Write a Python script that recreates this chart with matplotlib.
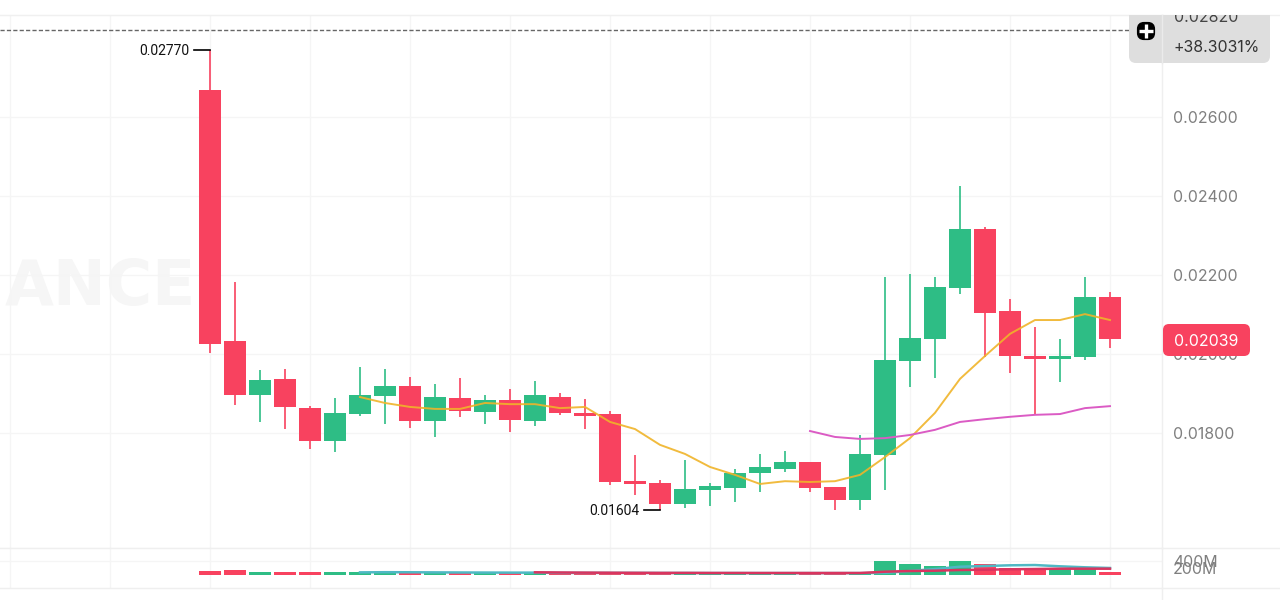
import matplotlib
matplotlib.use('Agg')
import matplotlib.pyplot as plt
from matplotlib.patches import FancyBboxPatch, Rectangle

plt.rcParams['font.family'] = ['Inter', 'DejaVu Sans']

RED = '#F8425F'
GREEN = '#2EBD85'
GRID = '#F5F5F5'
TICK = '#7F7F7F'

# candles, oldest first
opens = [0.02668, 0.02033, 0.01896, 0.01937, 0.01863, 0.01780, 0.01848, 0.01894, 0.01919, 0.01830,
         0.01889, 0.01853, 0.01884, 0.01830, 0.01891, 0.01851, 0.01848, 0.01678, 0.01673, 0.01620,
         0.01656, 0.01661, 0.01699, 0.01709, 0.01727, 0.01663, 0.01630, 0.01744, 0.01982, 0.02038,
         0.02167, 0.02316, 0.02109, 0.01995, 0.01987, 0.01992, 0.02144]
closes = [0.02025, 0.01896, 0.01934, 0.01866, 0.01780, 0.01851, 0.01896, 0.01919, 0.01830, 0.01891,
          0.01856, 0.01884, 0.01833, 0.01896, 0.01851, 0.01843, 0.01676, 0.01671, 0.01620, 0.01658,
          0.01666, 0.01699, 0.01714, 0.01727, 0.01661, 0.01630, 0.01747, 0.01985, 0.02041, 0.02170,
          0.02316, 0.02104, 0.01995, 0.01987, 0.01995, 0.02144, 0.02039]
highs = [0.02770, 0.02182, 0.01959, 0.01962, 0.01868, 0.01889, 0.01967, 0.01962, 0.01942, 0.01924,
         0.01939, 0.01896, 0.01911, 0.01932, 0.01901, 0.01886, 0.01856, 0.01744, 0.01681, 0.01732,
         0.01673, 0.01709, 0.01747, 0.01754, 0.01727, 0.01663, 0.01795, 0.02195, 0.02203, 0.02195,
         0.02425, 0.02322, 0.02139, 0.02068, 0.02038, 0.02195, 0.02157]
lows = [0.02003, 0.01871, 0.01828, 0.01810, 0.01760, 0.01752, 0.01843, 0.01823, 0.01813, 0.01790,
        0.01841, 0.01823, 0.01803, 0.01818, 0.01846, 0.01810, 0.01668, 0.01643, 0.01604, 0.01610,
        0.01615, 0.01625, 0.01651, 0.01701, 0.01651, 0.01605, 0.01606, 0.01656, 0.01916, 0.01939,
        0.02152, 0.01992, 0.01952, 0.01846, 0.01929, 0.01985, 0.02015]

# moving averages, they start later than the candles
ma_fast_start = 6
ma_fast = [0.01891, 0.01876, 0.01866, 0.01861, 0.01861, 0.01876, 0.01873, 0.01873, 0.01863, 0.01866,
           0.01828, 0.01810, 0.01770, 0.01747, 0.01714, 0.01694, 0.01671, 0.01678, 0.01676, 0.01678,
           0.01694, 0.01739, 0.01787, 0.01851, 0.01937, 0.01995, 0.02051, 0.02086, 0.02086, 0.02101,
           0.02086]
ma_slow_start = 24
ma_slow = [0.01805, 0.01790, 0.01785, 0.01787, 0.01795, 0.01808, 0.01828, 0.01835, 0.01841, 0.01846,
           0.01848, 0.01863, 0.01868]

# volume in millions
volumes = [120, 140, 85, 85, 75, 75, 85, 80, 60, 50, 60, 50, 50, 50, 45, 45, 45, 45, 45, 45,
           45, 45, 45, 45, 40, 40, 60, 390, 325, 255, 400, 315, 200, 190, 190, 185, 85]
vol_ma_teal_start = 6
vol_ma_teal = [75, 80, 78, 75, 72, 70, 68, 68, 60, 60, 60, 60, 58, 58, 56, 56, 55, 55, 55, 55,
               55, 60, 115, 170, 237, 257, 277, 285, 248, 220, 200]
vol_ma_red_start = 13
vol_ma_red = [77, 72, 68, 65, 62, 60, 60, 58, 58, 57, 57, 57, 57, 57, 94, 114, 123, 143, 151, 163,
              171, 180, 180, 180]

price_ticks = [0.018, 0.020, 0.022, 0.024, 0.026]
vol_ticks = [200, 400]
vol_tick_labels = ['200M', '400M']
time_ticks = list(range(-8, 37, 4))
top_price = 0.0282
last_price = 0.02039
hi_label = '0.02770'
lo_label = '0.01604'
hi_value = 0.0277
lo_value = 0.01604
hi_idx = 0
lo_idx = 18


def px_axes(fig, left, top, right, bottom):
    return fig.add_axes([left / 1280, 1 - bottom / 600, (right - left) / 1280, (bottom - top) / 600])


fig = plt.figure(figsize=(12.8, 6), dpi=100, facecolor='white')
ax = px_axes(fig, 0, 15, 1162, 548)
vol = px_axes(fig, 0, 548, 1162, 588)
over = fig.add_axes([0, 0, 1, 1], zorder=5)
over.set_xlim(0, 1280)
over.set_ylim(600, 0)
over.axis('off')
over.patch.set_alpha(0)

xmin, xmax = -8.4, 38.08
k = 0.002 / 79
ax.set_xlim(xmin, xmax)
ax.set_ylim(0.018 - 115 * k, 0.018 + 418 * k)
vol.set_xlim(xmin, xmax)
vol.set_ylim(-371, 771)

for a in (ax, vol):
    a.set_xticks(time_ticks)
    a.set_xticklabels([])
    a.grid(True, color=GRID, lw=1)
    a.set_axisbelow(True)
    a.yaxis.tick_right()
    a.tick_params(length=0, labelcolor=TICK, labelsize=11.4, pad=8)
    for s in a.spines.values():
        s.set_color('#EFEFEF')
    a.spines['left'].set_visible(False)

ax.set_yticks(price_ticks)
ax.set_yticklabels(['%.5f' % p for p in price_ticks])
vol.set_yticks(vol_ticks)
vol.set_yticklabels(vol_tick_labels)
vol.yaxis.grid(False)
vol.axhline(vol_ticks[1], color=GRID, lw=1, zorder=0)

# faded watermark
ax.text(5, 305, 'ANCE', transform=over.transData, fontsize=45.5, fontweight='bold', color='#F6F6F6',
        va='baseline', ha='left', family='DejaVu Sans', zorder=0)

ax.axhline(top_price, color='#666666', lw=1, ls=(0, (3, 1.6)), zorder=1)

xs = list(range(len(opens)))
colors = [GREEN if c >= o else RED for o, c in zip(opens, closes)]
ax.vlines(xs, lows, highs, colors=colors, lw=1.2, zorder=2)
ax.bar(xs, [abs(c - o) for o, c in zip(opens, closes)], bottom=[min(o, c) for o, c in zip(opens, closes)],
       width=0.88, color=colors, zorder=3)

ax.plot(range(ma_fast_start, ma_fast_start + len(ma_fast)), ma_fast, color='#F0B429', lw=1.4, alpha=0.9, zorder=4)
ax.plot(range(ma_slow_start, ma_slow_start + len(ma_slow)), ma_slow, color='#DB5BC4', lw=1.4, zorder=4)

# high and low labels with their little lines
for idx, value, label in [(hi_idx, hi_value, hi_label), (lo_idx, lo_value, lo_label)]:
    ax.plot([idx - 0.64, idx], [value, value], color='black', lw=1.2, zorder=5)
    ax.annotate(label, xy=(idx, value), xytext=(-21, -1), textcoords='offset pixels', ha='right', va='center',
                fontsize=10, color='#111111', family='Roboto', zorder=5)

vol_colors = colors
vol.bar(xs, volumes, width=0.88, color=vol_colors, zorder=2)
vol.plot(range(vol_ma_teal_start, vol_ma_teal_start + len(vol_ma_teal)), vol_ma_teal, color='#4FB8C4', lw=1.8, zorder=3)
vol.plot(range(vol_ma_red_start, vol_ma_red_start + len(vol_ma_red)), vol_ma_red, color='#D9345F', lw=1.8, zorder=4)

# frame bits on the right of the price axis
over.plot([1162, 1162], [15, 600], color='#EFEFEF', lw=1, zorder=1)
over.plot([0, 1280], [15, 15], color='#F0F0F0', lw=1, zorder=1)
over.plot([0, 1280], [548, 548], color='#EFEFEF', lw=1, zorder=1)
over.plot([0, 1280], [588, 588], color='#EFEFEF', lw=1, zorder=1)

# grey box of the top price line, cut off at the top edge of the chart
panel_clip = Rectangle((1125, 15), 150, 60, transform=over.transData)
panel = FancyBboxPatch((1129, 5), 141, 58, boxstyle='round,pad=0,rounding_size=7', fc='#DEDEDE', ec='none', zorder=2)
over.add_patch(panel)
panel.set_clip_path(panel_clip)
over.plot([1162, 1162], [15, 63], color='#EBEBEB', lw=1, zorder=3)
t = over.text(1206, 18, '%.5f' % top_price, fontsize=11.4, color='#444444', ha='center', va='center', zorder=4)
t.set_clip_on(True)
t.set_clip_path(panel_clip)
over.text(1217, 48, '+38.3031%', fontsize=11.4, color='#333333', ha='center', va='center', zorder=4)
over.add_patch(FancyBboxPatch((1139, 24), 14, 14, boxstyle='round,pad=0,rounding_size=5', fc='black', ec='black',
                              lw=3, zorder=4))
over.plot([1146], [31], marker='+', ms=10, mew=2.4, color='white', zorder=5)

# last price tag
over.add_patch(FancyBboxPatch((1163, 324), 87, 32, boxstyle='round,pad=0,rounding_size=6', fc=RED, ec='none', zorder=4))
over.text(1206, 342, '%.5f' % last_price, fontsize=11.4, color='white', ha='center', va='center', zorder=5)

fig.savefig('out.png', dpi=100)
